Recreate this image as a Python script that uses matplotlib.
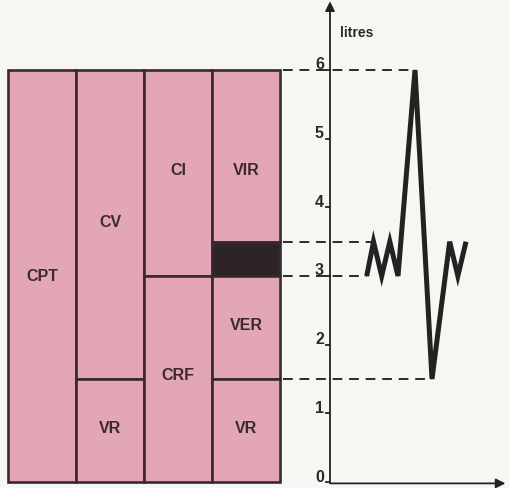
import matplotlib
matplotlib.use("Agg")
import matplotlib.pyplot as plt
from matplotlib.patches import Rectangle

plt.rcParams['font.family'] = ['Liberation Sans', 'DejaVu Sans']

# Lung volume compartments: (column, bottom, top, label, fill)
blocks_col = [0, 1, 1, 2, 2, 3, 3, 3, 3]
blocks_bottom = [0.0, 1.5, 0.0, 3.0, 0.0, 3.5, 3.0, 1.5, 0.0]
blocks_top = [6.0, 6.0, 1.5, 6.0, 3.0, 6.0, 3.5, 3.0, 1.5]
blocks_label = ["CPT", "CV", "VR", "CI", "CRF", "VIR", "", "VER", "VR"]
blocks_label_y = [3.0, 3.8, 0.8, 4.55, 1.56, 4.55, 3.25, 2.3, 0.8]
blocks_dark = [False, False, False, False, False, False, True, False, False]

# Spirogram trace (time, litres)
trace_t = [0.54, 0.64, 0.76, 0.88, 1.00, 1.25, 1.50, 1.76, 1.88, 2.00]
trace_v = [3.0, 3.5, 3.0, 3.5, 3.0, 6.0, 1.5, 3.5, 3.0, 3.5]

# Reference levels and where their dashed guides end
levels = [6.0, 3.5, 3.0, 1.5]
level_end_t = [1.25, 0.62, 0.54, 1.50]

y_ticks = [0, 1, 2, 3, 4, 5, 6]

pink = "#e3a6b5"
dark = "#2e2327"
edge = "#3a2a30"
bg = "#f6f6f3"

fig = plt.figure(figsize=(5.10, 4.89), dpi=100, facecolor=bg)
ax = fig.add_axes([0, 0, 1, 1])
ax.set_facecolor(bg)
ax.set_xlim(-330 / 68.0, 180 / 68.0)
ax.set_ylim(-6 / 68.67, 483 / 68.67)
ax.axis("off")

col_w = 1.0
x0 = -4.735
for c, b, t, lab, ly, dk in zip(blocks_col, blocks_bottom, blocks_top,
                                blocks_label, blocks_label_y, blocks_dark):
    ax.add_patch(Rectangle((x0 + c * col_w, b), col_w, t - b,
                           facecolor=dark if dk else pink, edgecolor=edge,
                           linewidth=1.9, zorder=2))
    if lab:
        ax.text(x0 + (c + 0.5) * col_w, ly, lab, ha="center", va="center",
                fontsize=11.5, fontweight="bold", color="#3a2a30", zorder=3)

# Dashed guide lines
guide_start = x0 + 4 * col_w + 0.05
for lv, te in zip(levels, level_end_t):
    ax.plot([guide_start, te], [lv, lv], color="#2a2a2a", linewidth=1.4,
            dashes=(5, 3.5), zorder=1)

# Axes with arrows
ax.annotate("", xy=(0, 7.0), xytext=(0, 0), zorder=4,
            arrowprops=dict(arrowstyle="-|>", color="#222222", lw=1.3,
                            mutation_scale=14, shrinkA=0, shrinkB=0))
ax.annotate("", xy=(2.58, -0.02), xytext=(0, -0.02), zorder=4,
            arrowprops=dict(arrowstyle="-|>", color="#222222", lw=1.3,
                            mutation_scale=14, shrinkA=0, shrinkB=0))

for yt in y_ticks:
    ax.plot([-0.06, 0], [yt, yt], color="#222222", linewidth=1.3, zorder=4)
    ax.text(-0.09, yt - 0.02 if yt else -0.03, str(yt), ha="right", va="bottom",
            fontsize=11.5, fontweight="bold", color="#2a2a2a")

ax.text(0.14, 6.55, "litres", ha="left", va="center", fontsize=10,
        fontweight="bold", color="#2a2a2a")

# Spirogram
ax.plot(trace_t, trace_v, color="#222222", linewidth=3.6,
        solid_joinstyle="miter", solid_capstyle="butt", zorder=5)

fig.savefig("out.png", dpi=100, facecolor=bg)
